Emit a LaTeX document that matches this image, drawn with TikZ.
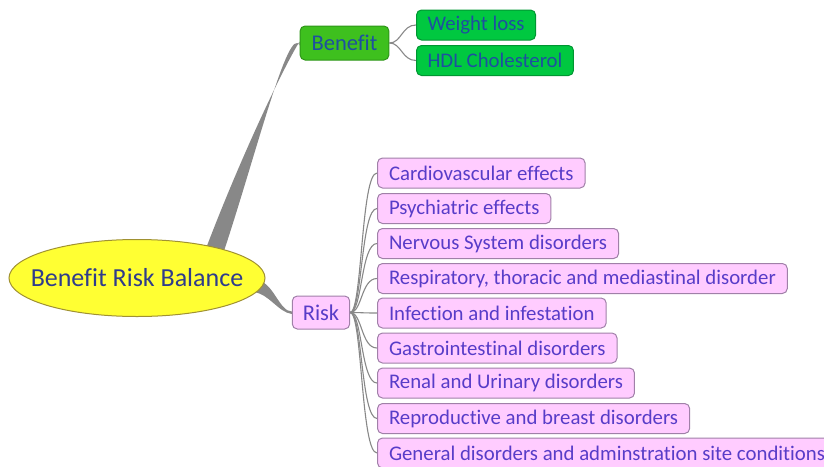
\documentclass[tikz,border=0pt]{standalone}
\usepackage{fontspec}
\setmainfont{Carlito}[Ligatures=CommonOff]
\usetikzlibrary{shapes.geometric,backgrounds}
\definecolor{ellfill}{RGB}{255,255,51}
\definecolor{elldraw}{RGB}{160,145,50}
\definecolor{elltext}{RGB}{47,60,140}
\definecolor{benfill}{RGB}{62,192,30}
\definecolor{bendraw}{RGB}{46,150,24}
\definecolor{gfill}{RGB}{0,200,64}
\definecolor{gdraw}{RGB}{0,150,50}
\definecolor{gtext}{RGB}{30,79,160}
\definecolor{pfill}{RGB}{255,204,255}
\definecolor{pdraw}{RGB}{160,128,168}
\definecolor{ptext}{RGB}{88,60,200}
\definecolor{conncol}{RGB}{136,136,136}
\tikzset{
  mainell/.style={ellipse,draw=elldraw,fill=ellfill,line width=1pt,minimum width=256pt,minimum height=77pt,inner sep=0pt,text=elltext,font=\fontsize{26}{30}\selectfont},
  bennode/.style={draw=bendraw,fill=benfill,rounded corners=5pt,line width=1pt,minimum height=34pt,inner xsep=11.5pt,inner ysep=0pt,text=gtext,font=\fontsize{22.5}{26}\selectfont},
  gnode/.style={draw=gdraw,fill=gfill,rounded corners=5pt,line width=1pt,minimum height=30pt,inner xsep=11pt,inner ysep=0pt,text=gtext,font=\fontsize{20.8}{24}\selectfont,anchor=west},
  risknode/.style={draw=pdraw,fill=pfill,rounded corners=5pt,line width=1pt,minimum height=33pt,inner xsep=10.5pt,inner ysep=0pt,text=ptext,font=\fontsize{22.5}{26}\selectfont},
  pnode/.style={draw=pdraw,fill=pfill,rounded corners=5pt,line width=1pt,minimum height=30pt,inner xsep=11.5pt,inner ysep=0pt,text=ptext,font=\fontsize{20.8}{24}\selectfont,anchor=west},
  conn/.style={draw=conncol,line width=1.1pt},
  branch/.style={fill=conncol}
}
\begin{document}
\begin{tikzpicture}[x=1pt,y=-1pt]
\useasboundingbox (0,0) rectangle (824,466);
\node[mainell] (bal) at (137,278) {\makebox[0pt]{Benefit Risk Balance}};
\node[bennode] (ben) at (344.5,43) {Benefit};
\node[risknode] (risk) at (321,312.5) {Risk};
\node[gnode] (wl) at (416,25) {Weight loss};
\node[gnode] (hdl) at (416,60.5) {HDL Cholesterol};
\node[pnode] (c1) at (377,173) {Cardiovascular effects};
\node[pnode] (c2) at (377,208.5) {Psychiatric effects};
\node[pnode] (c3) at (377,243.5) {Nervous System disorders};
\node[pnode] (c4) at (377,278.5) {Respiratory, thoracic and mediastinal disorder};
\node[pnode] (c5) at (377,313) {Infection and infestation};
\node[pnode] (c6) at (377,348) {Gastrointestinal disorders};
\node[pnode] (c7) at (377,383) {Renal and Urinary disorders};
\node[pnode] (c8) at (377,418.5) {Reproductive and breast disorders};
\node[pnode] (c9) at (377,453) {General disorders and adminstration site conditions};
\begin{scope}[on background layer]
\fill[branch] ([xshift=68pt,yshift=-12pt]bal.north) .. controls +(38,-100) and +(-14,22) .. ([yshift=1.5pt]ben.west)
  -- ([yshift=-2.5pt]ben.west) .. controls +(-11,-22) and +(33,-100) .. ([xshift=87pt,yshift=-12pt]bal.north) -- cycle;
\fill[branch] ([xshift=-6pt,yshift=-3pt]bal.east) .. controls +(14,3) and +(-12,0) .. ([yshift=1pt]risk.west)
  -- ([yshift=-1.5pt]risk.west) .. controls +(-14,-2) and +(16,2) .. ([xshift=-12pt,yshift=-14pt]bal.east) -- cycle;
\foreach \c in {c1,c2,c3,c4,c5,c6,c7,c8,c9}
  \draw[conn] (risk.east) .. controls +(12,0) and +(-16,0) .. (\c.west);
\foreach \c in {wl,hdl}
  \draw[conn] (ben.east) .. controls +(12,0) and +(-14,0) .. (\c.west);
\end{scope}
\end{tikzpicture}
\end{document}
